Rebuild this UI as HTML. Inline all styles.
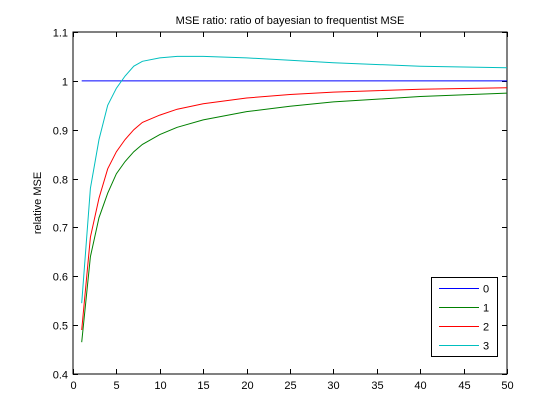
<!DOCTYPE html>
<html><head><meta charset="utf-8"><style>
body{margin:0;background:#fff;}
svg{display:block;font-family:"Liberation Sans",sans-serif;}
</style></head><body>
<svg id="chart" width="560" height="420" viewBox="0 0 560 420">
<rect x="0" y="0" width="560" height="420" fill="#fff"/>
<text x="290" y="24" font-size="11" text-anchor="middle">MSE ratio: ratio of bayesian to frequentist MSE</text>
<text transform="translate(41,203) rotate(-90)" font-size="11" text-anchor="middle">relative MSE</text>
<g id="plot"></g>
</svg>
<script>
const xs = [1,2,3,4,5,6,7,8,10,12,15,20,25,30,40,50];
const s0 = [1,1,1,1,1,1,1,1,1,1,1,1,1,1,1,1];
const s1 = [0.465,0.64,0.72,0.77,0.81,0.835,0.855,0.87,0.89,0.905,0.92,0.937,0.948,0.957,0.968,0.975];
const s2 = [0.49,0.68,0.76,0.82,0.855,0.88,0.9,0.915,0.93,0.942,0.953,0.965,0.972,0.977,0.983,0.986];
const s3 = [0.545,0.78,0.88,0.95,0.985,1.01,1.03,1.04,1.047,1.05,1.05,1.047,1.042,1.037,1.03,1.027];
const seriesNames = ['0','1','2','3'];
const seriesColors = ['#0000ff','#008000','#ff0000','#00bfbf'];
const xTicks = [0,5,10,15,20,25,30,35,40,45,50];
const yTicks = [0.4,0.5,0.6,0.7,0.8,0.9,1,1.1];
const yTickLabels = ['0.4','0.5','0.6','0.7','0.8','0.9','1','1.1'];

const L=73,R=507,T=32,B=374;
const sx=v=>L+(v-0)/(50-0)*(R-L);
const sy=v=>B-(v-0.4)/(1.1-0.4)*(B-T);
const NS='http://www.w3.org/2000/svg';
const g=document.getElementById('plot');
function mk(tag,attrs){const e=document.createElementNS(NS,tag);for(const k in attrs)e.setAttribute(k,attrs[k]);g.appendChild(e);return e;}

const frame=mk('rect',{x:L,y:T,width:R-L,height:B-T,fill:'#fff',stroke:'#000','stroke-width':1});



xTicks.forEach(t=>{
  const x=Math.round(sx(t))+0.5;
  const a=mk('line',{x1:x,x2:x,y1:B,y2:B-5,stroke:'#000'});
  
  
  const b=mk('line',{x1:x,x2:x,y1:T,y2:T+5,stroke:'#000'});
  
  
  const tx=mk('text',{x:x,y:B+15,'font-size':11,'text-anchor':'middle'});
  tx.textContent=String(t);
  
  
});
yTicks.forEach((t,i)=>{
  const y=Math.round(sy(t))+0.5;
  const a=mk('line',{x1:L,x2:L+5,y1:y,y2:y,stroke:'#000'});
  
  
  const b=mk('line',{x1:R-5,x2:R,y1:y,y2:y,stroke:'#000'});
  
  
  const tx=mk('text',{x:L-5,y:y+4,'font-size':11,'text-anchor':'end'});
  tx.textContent=yTickLabels[i];
  
  
});

[s0,s1,s2,s3].forEach((s,i)=>{
  const pts=xs.map((x,j)=>sx(x).toFixed(1)+','+sy(s[j]).toFixed(1)).join(' ');
  const p=mk('polyline',{points:pts,fill:'none',stroke:seriesColors[i],'stroke-width':1});
  
  
});

const lg=mk('rect',{x:431.5,y:277.5,width:66,height:79,fill:'#fff',stroke:'#000'});


seriesNames.forEach((n,i)=>{
  const y=288.5+i*19;
  const l=mk('line',{x1:439,x2:479,y1:y,y2:y,stroke:seriesColors[i]});
  
  
  const t=mk('text',{x:483,y:y+4,'font-size':11});
  t.textContent=n;
  
  
});
</script>
</body></html>
